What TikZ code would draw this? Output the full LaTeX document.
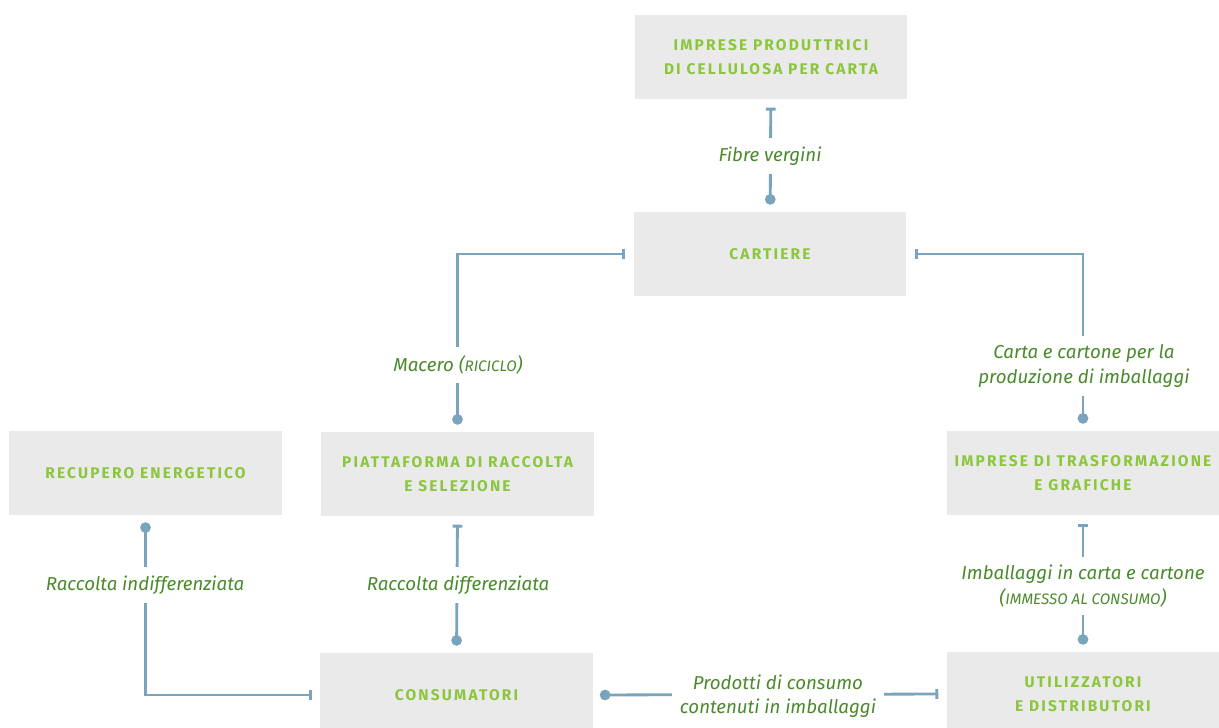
\documentclass[tikz,border=0pt]{standalone}
\usepackage{fontspec}
\setmainfont{Fira Sans}
\newfontfamily\boxfont[LetterSpace=14]{Fira Sans}
\usetikzlibrary{arrows.meta}
\definecolor{boxgrey}{HTML}{EAEAEA}
\definecolor{boxgreen}{HTML}{8CC63F}
\definecolor{lblgreen}{HTML}{4A8A2C}
\definecolor{linkblue}{HTML}{7AA3BD}
\newcommand{\sccaps}[1]{{\fontsize{10.8}{17}\selectfont #1}}

\tikzset{
	ente/.style={fill=boxgrey, minimum width=6.8cm, minimum height=2.1cm, align=center, text=boxgreen, font=\boxfont\bfseries\fontsize{11}{16.6}\selectfont},
	flusso/.style={draw=linkblue, line width=2pt, {Circle[length=7.5pt]}-{Bar[width=7pt]}, shorten <=5pt, shorten >=6pt},
	voce/.style={fill=white, text=lblgreen, align=center, inner xsep=6pt, inner ysep=6pt, font=\itshape\fontsize{13.3}{17.2}\selectfont}
}

\begin{document}
\begin{tikzpicture}[x=0.025cm, y=-0.025cm]
		\useasboundingbox (0,0) rectangle (1219,728);
		% boxes
		\node[ente] (prod) at (771,57) {IMPRESE PRODUTTRICI\\DI CELLULOSA PER CARTA};
		\node[ente] (cart) at (770,254) {CARTIERE};
		\node[ente] (recup) at (145.5,473) {RECUPERO ENERGETICO};
		\node[ente] (piatt) at (457.5,474) {PIATTAFORMA DI RACCOLTA\\E SELEZIONE};
		\node[ente] (trasf) at (1083,473) {IMPRESE DI TRASFORMAZIONE\\E GRAFICHE};
		\node[ente] (cons) at (456.5,695) {CONSUMATORI};
		\node[ente] (util) at (1083,694) {UTILIZZATORI\\E DISTRIBUTORI};
		% flows
		\draw[flusso] (cart) -- (prod);
		\draw[flusso] (piatt.north) |- (cart.west);
		\draw[flusso] (trasf.north) |- (cart.east);
		\draw[flusso] (recup.south) |- (cons.west);
		\draw[flusso] (cons.north) -- (piatt.south);
		\draw[flusso] (util.north) -- (trasf.south);
		\draw[flusso] (cons.east) -- (util.west);
		% labels
		\node[voce] (fibre) at (770,156) {Fibre vergini};
		\node[voce] (macero) at (458,365) {Macero (\sccaps{RICICLO})};
		\node[voce] (carta) at (1084,366) {Carta e cartone per la\\produzione di imballaggi};
		\node[voce] (indiff) at (145,585) {Raccolta indifferenziata};
		\node[voce] (diff) at (458,585) {Raccolta differenziata};
		\node[voce] (imball) at (1083,586) {Imballaggi in carta e cartone\\(\sccaps{IMMESSO AL CONSUMO})};
		\node[voce] (prodotti) at (778,696) {Prodotti di consumo\\contenuti in imballaggi};
	\end{tikzpicture}
\end{document}
